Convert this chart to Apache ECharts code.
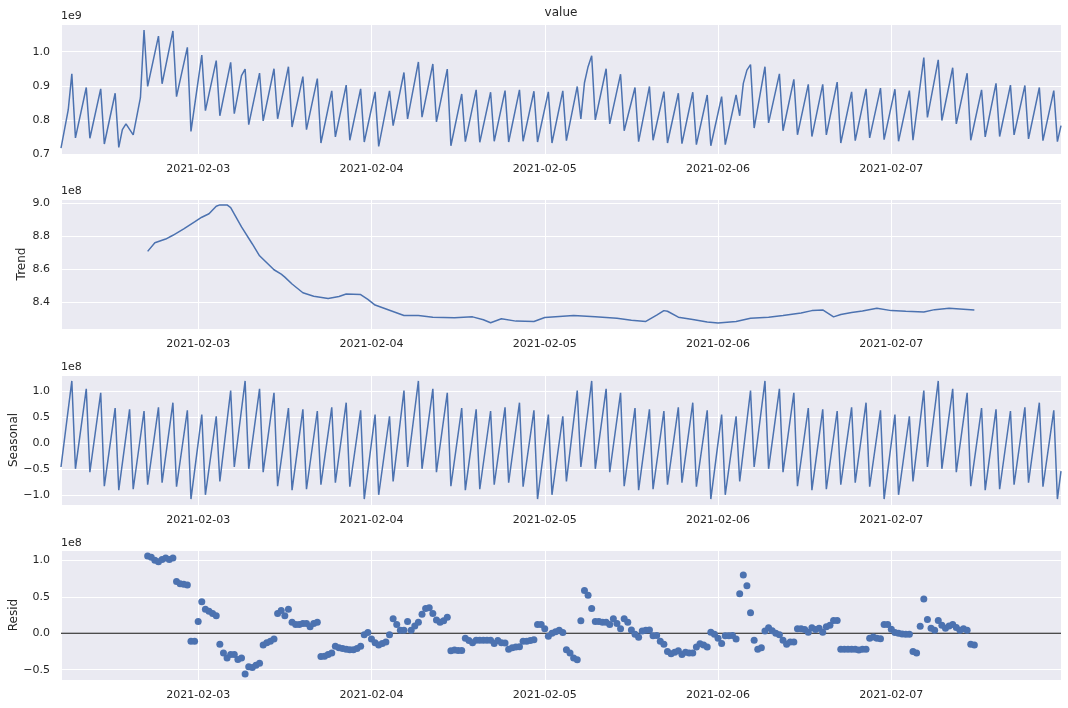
<!DOCTYPE html>
<html>
<head>
<meta charset="utf-8">
<script src="https://cdn.jsdelivr.net/npm/echarts@6/dist/echarts.min.js"></script>
<style>
  html, body { margin: 0; padding: 0; background: #ffffff; }
  #chart { width: 1068px; height: 708px; }
</style>
</head>
<body>
<div id="chart"></div>
<script>
// ---------- DATA ----------
// Time base: 30-minute samples starting 2021-02-02 05:00 (index 0), 278 samples
const START_TIME = '2021-02-02T05:00:00Z';
const STEP_MINUTES = 30;
const N_SAMPLES = 278;
const xTickLabels = ['2021-02-03', '2021-02-04', '2021-02-05', '2021-02-06', '2021-02-07'];

// Observed "value" (units of 1e9): [sample index, value] at turning points
const observedPts = [
  [0,0.717],[2,0.829],[3,0.935],[4,0.747],[7,0.895],[8,0.746],[11,0.891],[12,0.729],[15,0.878],[16,0.719],
  [17,0.771],[18,0.788],[20,0.756],[22,0.865],[23,1.064],[24,0.898],[27,1.046],[28,0.906],[31,1.061],[32,0.868],
  [35,1.013],[36,0.766],[39,0.990],[40,0.827],[43,0.974],[44,0.812],[47,0.969],[48,0.818],[50,0.930],[51,0.949],
  [52,0.786],[55,0.937],[56,0.797],[59,0.950],[60,0.803],[63,0.956],[64,0.779],[67,0.927],[68,0.771],[71,0.921],
  [72,0.732],[75,0.885],[76,0.750],[79,0.902],[80,0.740],[83,0.891],[84,0.735],[87,0.882],[88,0.722],[91,0.885],
  [92,0.783],[95,0.939],[96,0.803],[99,0.970],[100,0.808],[103,0.964],[104,0.794],[107,0.949],[108,0.724],[111,0.876],
  [112,0.736],[115,0.888],[116,0.734],[119,0.881],[120,0.737],[123,0.886],[124,0.735],[127,0.888],[128,0.737],[131,0.884],
  [132,0.735],[135,0.882],[136,0.732],[139,0.885],[140,0.739],[143,0.898],[144,0.803],[145,0.909],[146,0.956],[147,0.988],
  [148,0.800],[151,0.950],[152,0.788],[155,0.934],[156,0.768],[159,0.895],[160,0.736],[163,0.898],[164,0.740],[167,0.883],
  [168,0.732],[171,0.878],[172,0.730],[175,0.881],[176,0.727],[179,0.873],[180,0.724],[183,0.868],[184,0.727],[187,0.873],
  [188,0.812],[189,0.907],[190,0.946],[191,0.962],[192,0.776],[195,0.956],[196,0.791],[199,0.935],[200,0.768],[203,0.919],
  [204,0.756],[207,0.904],[208,0.751],[211,0.904],[212,0.756],[215,0.911],[216,0.732],[219,0.882],[220,0.739],[223,0.891],
  [224,0.747],[227,0.893],[228,0.742],[231,0.890],[232,0.737],[235,0.886],[236,0.740],[239,0.983],[240,0.807],[243,0.976],
  [244,0.798],[247,0.953],[248,0.788],[251,0.937],[252,0.740],[255,0.888],[256,0.750],[259,0.907],[260,0.751],[263,0.902],
  [264,0.756],[267,0.901],[268,0.744],[271,0.895],[272,0.739],[275,0.886],[276,0.736],[277,0.783]
];

// Trend (units of 1e8): [sample index, value]
const trendPts = [
  [24,8.707],[26,8.759],[29,8.782],[31,8.805],[34,8.844],[37,8.886],[39,8.915],[41,8.936],[43,8.982],[44,8.990],
  [46,8.990],[47,8.974],[50,8.856],[53,8.752],[55,8.680],[59,8.595],[61,8.568],[62,8.550],[64,8.508],[67,8.455],
  [70,8.434],[74,8.420],[77,8.432],[79,8.447],[83,8.444],[85,8.414],[87,8.380],[91,8.348],[95,8.316],[99,8.316],
  [103,8.306],[109,8.302],[114,8.308],[117,8.290],[119,8.272],[122,8.296],[126,8.282],[131,8.280],[134,8.304],[139,8.312],
  [142,8.316],[148,8.308],[154,8.300],[158,8.288],[162,8.280],[165,8.318],[167,8.346],[168,8.342],[171,8.306],[175,8.292],
  [179,8.276],[182,8.270],[187,8.280],[191,8.300],[196,8.306],[200,8.316],[205,8.332],[208,8.346],[211,8.350],[214,8.308],
  [216,8.322],[219,8.334],[222,8.344],[226,8.360],[230,8.346],[234,8.342],[239,8.338],[242,8.352],[246,8.360],[253,8.350]
];

// Seasonal (units of 1e8): [sample index, value] at troughs / peaks
const seasonalPts = [
  [0,-0.46],[3,1.2],[4,-0.494],[7,1.046],[8,-0.56],[11,0.97],[12,-0.83],[15,0.677],[16,-0.907],[19,0.652],[20,-0.888],[23,0.62],
  [24,-0.8],[27,0.69],[28,-0.76],[31,0.78],[32,-0.84],[35,0.633],[36,-1.078],[39,0.551],[40,-0.996],[43,0.519],[44,-0.736],[47,1.013],
  [48,-0.46],[51,1.2],[52,-0.494],[55,1.046],[56,-0.56],[59,0.97],[60,-0.83],[63,0.677],[64,-0.907],[67,0.652],[68,-0.888],[71,0.62],
  [72,-0.8],[75,0.69],[76,-0.76],[79,0.78],[80,-0.84],[83,0.633],[84,-1.078],[87,0.551],[88,-0.996],[91,0.519],[92,-0.736],[95,1.013],
  [96,-0.46],[99,1.2],[100,-0.494],[103,1.046],[104,-0.56],[107,0.97],[108,-0.83],[111,0.677],[112,-0.907],[115,0.652],[116,-0.888],[119,0.62],
  [120,-0.8],[123,0.69],[124,-0.76],[127,0.78],[128,-0.84],[131,0.633],[132,-1.078],[135,0.551],[136,-0.996],[139,0.519],[140,-0.736],[143,1.013],
  [144,-0.46],[147,1.2],[148,-0.494],[151,1.046],[152,-0.56],[155,0.97],[156,-0.83],[159,0.677],[160,-0.907],[163,0.652],[164,-0.888],[167,0.62],
  [168,-0.8],[171,0.69],[172,-0.76],[175,0.78],[176,-0.84],[179,0.633],[180,-1.078],[183,0.551],[184,-0.996],[187,0.519],[188,-0.736],[191,1.013],
  [192,-0.46],[195,1.2],[196,-0.494],[199,1.046],[200,-0.56],[203,0.97],[204,-0.83],[207,0.677],[208,-0.907],[211,0.652],[212,-0.888],[215,0.62],
  [216,-0.8],[219,0.69],[220,-0.76],[223,0.78],[224,-0.84],[227,0.633],[228,-1.078],[231,0.551],[232,-0.996],[235,0.519],[236,-0.736],[239,1.013],
  [240,-0.46],[243,1.2],[244,-0.494],[247,1.046],[248,-0.56],[251,0.97],[252,-0.83],[255,0.677],[256,-0.907],[259,0.652],[260,-0.888],[263,0.62],
  [264,-0.8],[267,0.69],[268,-0.76],[271,0.78],[272,-0.84],[275,0.633],[276,-1.078],[277,-0.54]
];

// Residuals (units of 1e8): one value per sample, from index 24 to 253
const RESID_START = 24;
const residVals = [
  1.06, 1.04, 1.00, 0.98, 1.01, 1.03, 1.01, 1.03,            // 24-31
  0.71, 0.68, 0.67, 0.66, -0.11, -0.11, 0.16, 0.43,          // 32-39
  0.33, 0.30, 0.27, 0.24, -0.15, -0.27, -0.34, -0.29,        // 40-47
  -0.29, -0.36, -0.34, -0.56, -0.46, -0.47, -0.44, -0.41,    // 48-55
  -0.16, -0.13, -0.11, -0.08, 0.27, 0.31, 0.24, 0.33,        // 56-63
  0.15, 0.12, 0.12, 0.135, 0.135, 0.09, 0.135, 0.15,         // 64-71
  -0.32, -0.315, -0.29, -0.27, -0.18, -0.20, -0.21, -0.22,   // 72-79
  -0.225, -0.225, -0.21, -0.18, -0.02, 0.01, -0.08, -0.13,   // 80-87
  -0.16, -0.14, -0.12, -0.02, 0.20, 0.12, 0.04, 0.04,        // 88-95
  0.16, 0.04, 0.10, 0.15, 0.26, 0.34, 0.35, 0.27,            // 96-103
  0.18, 0.15, 0.17, 0.22, -0.24, -0.23, -0.235, -0.235,      // 104-111
  -0.07, -0.10, -0.13, -0.095, -0.095, -0.095, -0.095, -0.095, // 112-119
  -0.14, -0.10, -0.13, -0.135, -0.22, -0.20, -0.19, -0.185,  // 120-127
  -0.11, -0.11, -0.10, -0.09, 0.12, 0.12, 0.06, -0.04,       // 128-135
  0.00, 0.02, 0.04, 0.01, -0.225, -0.27, -0.34, -0.365,      // 136-143
  0.17, 0.585, 0.52, 0.34, 0.16, 0.16, 0.15, 0.15,           // 144-151
  0.12, 0.20, 0.135, 0.06, 0.20, 0.15, 0.045, -0.015,        // 152-159
  -0.055, 0.03, 0.04, 0.045, -0.035, -0.03, -0.11, -0.15,    // 160-167
  -0.25, -0.28, -0.26, -0.24, -0.29, -0.26, -0.27, -0.27,    // 168-175
  -0.19, -0.145, -0.16, -0.19, 0.015, -0.015, -0.07, -0.14,  // 176-183
  -0.035, -0.035, -0.03, -0.08, 0.54, 0.80, 0.65, 0.28,      // 184-191
  -0.095, -0.22, -0.20, 0.03, 0.075, 0.035, 0.00, -0.02,     // 192-199
  -0.095, -0.15, -0.12, -0.12, 0.06, 0.06, 0.05, 0.015,      // 200-207
  0.075, 0.05, 0.07, 0.015, 0.09, 0.11, 0.175, 0.175,        // 208-215
  -0.22, -0.22, -0.22, -0.22, -0.22, -0.23, -0.22, -0.22,    // 216-223
  -0.07, -0.05, -0.07, -0.075, 0.12, 0.12, 0.055, 0.01,      // 224-231
  0.00, -0.01, -0.015, -0.015, -0.25, -0.27, 0.095, 0.47,    // 232-239
  0.19, 0.07, 0.04, 0.175, 0.11, 0.07, 0.10, 0.12,           // 240-247
  0.08, 0.04, 0.06, 0.04, -0.15, -0.16                       // 248-253
];

// ---------- CHART ----------
const t0 = Date.parse(START_TIME);
const stepMs = STEP_MINUTES * 60 * 1000;
const ts = i => t0 + i * stepMs;
const tMax = ts(N_SAMPLES - 1);

const BLUE = '#4C72B0';
const TEXT = '#262626';
const FONT = 'DejaVu Sans';
const BG = '#EAEAF2';

function pad(n) { return n < 10 ? '0' + n : '' + n; }
function dayLabel(v) {
  const d = new Date(v);
  if (d.getUTCHours() !== 0 || d.getUTCMinutes() !== 0) return '';
  const s = d.getUTCFullYear() + '-' + pad(d.getUTCMonth() + 1) + '-' + pad(d.getUTCDate());
  return xTickLabels.indexOf(s) >= 0 ? s : '';
}
function yFmt(step) {
  return function (v) {
    const k = v / step;
    if (Math.abs(k - Math.round(k)) > 1e-6) return '';
    const s = Math.abs(v).toFixed(1);
    return (v < -1e-9 ? '\u2212' : '') + s;
  };
}

const grids = [
  { left: 61, width: 1000, top: 24, height: 130 },
  { left: 61, width: 1000, top: 199, height: 130 },
  { left: 61, width: 1000, top: 375, height: 130 },
  { left: 61, width: 1000, top: 550, height: 130 }
].map(g => Object.assign({ backgroundColor: BG, show: true, borderWidth: 0 }, g));

const xAxes = grids.map((g, k) => ({
  type: 'time', gridIndex: k, min: t0, max: tMax,
  minInterval: 86400000, maxInterval: 86400000,
  axisLine: { show: false }, axisTick: { show: false },
  splitLine: { show: true, lineStyle: { color: '#ffffff', width: 1 } },
  axisLabel: { formatter: dayLabel, color: TEXT, fontFamily: FONT, fontSize: 11, margin: 10,
               showMinLabel: true, showMaxLabel: true, hideOverlap: false }
}));

const yRanges = [
  { min: 0.6997, max: 1.0814, step: 0.1, split: 4 },
  { min: 8.234, max: 9.026, step: 0.2, split: 4 },
  { min: -1.192, max: 1.314, step: 0.5, split: 5 },
  { min: -0.641, max: 1.141, step: 0.5, split: 3 }
];
const yAxes = yRanges.map((r, k) => ({
  type: 'value', gridIndex: k, min: r.min, max: r.max, splitNumber: r.split,
  axisLine: { show: false }, axisTick: { show: false },
  splitLine: { show: true, lineStyle: { color: '#ffffff', width: 1 } },
  axisLabel: { formatter: yFmt(r.step), color: TEXT, fontFamily: FONT, fontSize: 11, margin: 11 }
}));

const lineCommon = { type: 'line', showSymbol: false, symbol: 'none', silent: true,
  lineStyle: { color: BLUE, width: 1.5 }, itemStyle: { color: BLUE } };

const series = [
  Object.assign({}, lineCommon, { name: 'value', xAxisIndex: 0, yAxisIndex: 0,
    data: observedPts.map(p => [ts(p[0]), p[1]]) }),
  Object.assign({}, lineCommon, { name: 'Trend', xAxisIndex: 1, yAxisIndex: 1,
    data: trendPts.map(p => [ts(p[0]), p[1]]) }),
  Object.assign({}, lineCommon, { name: 'Seasonal', xAxisIndex: 2, yAxisIndex: 2,
    data: seasonalPts.map(p => [ts(p[0]), p[1]]) }),
  { type: 'line', name: 'zero', xAxisIndex: 3, yAxisIndex: 3, z: 1, silent: true,
    showSymbol: false, symbol: 'none', lineStyle: { color: '#111111', width: 1.2 },
    data: [[t0, 0], [tMax, 0]] },
  { type: 'scatter', name: 'Resid', xAxisIndex: 3, yAxisIndex: 3, z: 3, silent: true,
    symbol: 'circle', symbolSize: 7, itemStyle: { color: BLUE, opacity: 1 },
    data: residVals.map((v, j) => [ts(RESID_START + j), v]) }
];

function txt(text, x, y, opts) {
  return Object.assign({
    type: 'text', x: x, y: y, silent: true,
    style: Object.assign({ text: text, fill: TEXT, font: '11px "DejaVu Sans"',
      align: 'left', verticalAlign: 'middle', textAlign: 'left', textVerticalAlign: 'middle' }, (opts && opts.style) || {})
  }, (opts && opts.el) || {});
}

const graphic = [
  txt('value', 561, 13, { style: { font: '12px "DejaVu Sans"', align: 'center', textAlign: 'center' } }),
  txt('1e9', 61, 16.5),
  txt('1e8', 61, 191.5),
  txt('1e8', 61, 367.5),
  txt('1e8', 61, 543),
  txt('Trend', 22, 264, { style: { font: '12px "DejaVu Sans"', align: 'center', textAlign: 'center' }, el: { rotation: Math.PI / 2 } }),
  txt('Seasonal', 13.5, 440, { style: { font: '12px "DejaVu Sans"', align: 'center', textAlign: 'center' }, el: { rotation: Math.PI / 2 } }),
  txt('Resid', 13.5, 615, { style: { font: '12px "DejaVu Sans"', align: 'center', textAlign: 'center' }, el: { rotation: Math.PI / 2 } })
];

const chart = echarts.init(document.getElementById('chart'), null, { renderer: 'canvas' });
chart.setOption({
  useUTC: true,
  animation: false,
  backgroundColor: '#ffffff',
  textStyle: { fontFamily: FONT },
  grid: grids,
  xAxis: xAxes,
  yAxis: yAxes,
  series: series,
  graphic: graphic
});
</script>
</body>
</html>
